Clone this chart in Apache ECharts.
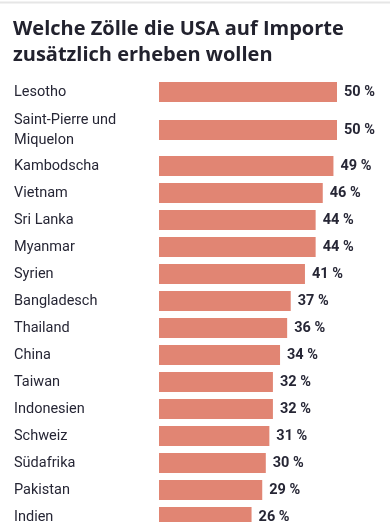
<!DOCTYPE html>
<html>
<head>
<meta charset="utf-8">
<script src="https://cdn.jsdelivr.net/npm/echarts@6/dist/echarts.min.js"></script>
<style>
html,body{margin:0;padding:0;background:#fff;}
#chart{width:390px;height:522px;}
</style>
</head>
<body>
<div id="chart"></div>
<script>
var titleText = 'Welche Zölle die USA auf Importe\nzusätzlich erheben wollen';
var categories = ['Lesotho','Saint-Pierre und\nMiquelon','Kambodscha','Vietnam','Sri Lanka','Myanmar','Syrien','Bangladesch','Thailand','China','Taiwan','Indonesien','Schweiz','Südafrika','Pakistan','Indien'];
var values = [50,50,49,46,44,44,41,37,36,34,32,32,31,30,29,26];

var barColor = '#e18573';
var textColor = '#262635';
var labelFont = 'Roboto';

// row groups: [startIndex, endIndex(exclusive), top, height]
var groups = [
  [0, 1, 78.5, 27],
  [1, 2, 107, 46],
  [2, 16, 152.5, 378]
];

var grids = [], xAxes = [], yAxes = [], series = [];
groups.forEach(function(g, i){
  grids.push({left:159, right:53, top:g[2], height:g[3], containLabel:false, outerBoundsMode:'none'});
  xAxes.push({type:'value', gridIndex:i, min:0, max:50, show:false});
  yAxes.push({
    type:'category', gridIndex:i, inverse:true,
    data: categories.slice(g[0], g[1]),
    axisLine:{show:false}, axisTick:{show:false}, splitLine:{show:false},
    axisLabel:{
      align:'left', margin:145, color:textColor, fontSize:14.5,
      fontFamily:labelFont, lineHeight:20
    }
  });
  series.push({
    type:'bar', xAxisIndex:i, yAxisIndex:i,
    data: values.slice(g[0], g[1]),
    barWidth:20,
    itemStyle:{color:barColor},
    label:{
      show:true, position:'right', distance:7,
      formatter:function(p){return p.value + ' %';},
      color:textColor, fontWeight:'bold', fontSize:14.5, fontFamily:labelFont
    },
    silent:true, animation:false
  });
});

var chart = echarts.init(document.getElementById('chart'), null, {renderer:'canvas'});
chart.setOption({
  backgroundColor:'#fff',
  animation:false,
  title:{
    text:titleText, left:13, top:16, padding:0,
    textStyle:{fontSize:20, fontWeight:'bold', color:'#22222e', fontFamily:'Open Sans', lineHeight:26}
  },
  graphic:[{type:'rect', shape:{x:0, y:1.5, width:390, height:2}, style:{fill:'#e6e6e6'}, silent:true}],
  grid:grids, xAxis:xAxes, yAxis:yAxes, series:series
});
</script>
</body>
</html>
